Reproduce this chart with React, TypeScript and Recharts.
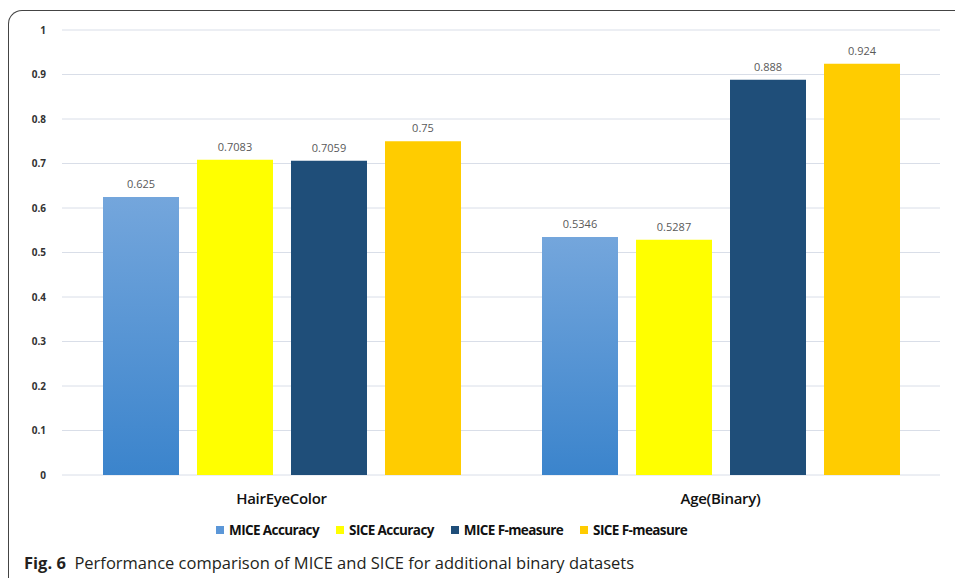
import React from "react";
import { BarChart, Bar, XAxis, YAxis, CartesianGrid, LabelList } from "recharts";

const datasets = ["HairEyeColor", "Age(Binary)"];
const miceAccuracy = [0.625, 0.5346];
const siceAccuracy = [0.7083, 0.5287];
const miceFMeasure = [0.7059, 0.888];
const siceFMeasure = [0.75, 0.924];
const yTicks = [0, 0.1, 0.2, 0.3, 0.4, 0.5, 0.6, 0.7, 0.8, 0.9, 1];

const seriesNames = ["MICE Accuracy", "SICE Accuracy", "MICE F-measure", "SICE F-measure"];
const seriesKeys = ["miceAcc", "siceAcc", "miceF", "siceF"];
const seriesColors = ["#5b97d8", "#ffff00", "#1f4e79", "#ffcc00"];
const seriesFills = ["url(#miceAccGrad)", "#ffff00", "#1f4e79", "#ffcc00"];

const data = datasets.map((name, i) => ({
  name,
  miceAcc: miceAccuracy[i],
  siceAcc: siceAccuracy[i],
  miceF: miceFMeasure[i],
  siceF: siceFMeasure[i],
}));

const font = "'Open Sans', 'DejaVu Sans', sans-serif";

const fmtTick = (v: number) => (v === 0 || v === 1 ? String(v) : v.toFixed(1));

export default function App() {
  return (
    <div style={{ position: "absolute", left: 0, top: 0, width: 955, height: 578, background: "#fff", overflow: "hidden" }}>
      {/* frame: top + left edge with rounded corner */}
      <div
        style={{
          position: "absolute",
          left: 8,
          top: 10,
          width: 960,
          height: 600,
          borderTop: "1.5px solid #444",
          borderLeft: "1.5px solid #444",
          borderTopLeftRadius: 14,
        }}
      />
      <div style={{ position: "absolute", left: 0, top: 0 }}>
        <BarChart
          width={955}
          height={578}
          data={data}
          margin={{ top: 30, right: 15, left: 0, bottom: 73 }}
          barSize={76}
          barGap={18}
        >
          <defs>
            <linearGradient id="miceAccGrad" x1="0" y1="0" x2="0" y2="1">
              <stop offset="0%" stopColor="#74a6dc" />
              <stop offset="100%" stopColor="#3b84cc" />
            </linearGradient>
          </defs>
          <CartesianGrid vertical={false} stroke="#d9dee8" strokeWidth={1} />
          <XAxis
            dataKey="name"
            axisLine={false}
            tickLine={false}
            tickMargin={12}
            height={30}
            tick={{ fontFamily: font, fontWeight: 600, fontSize: 15, fill: "#111", letterSpacing: -0.3 }}
          />
          <YAxis
            domain={[0, 1]}
            ticks={yTicks}
            tickFormatter={fmtTick}
            width={62}
            axisLine={false}
            tickLine={false}
            tickMargin={10}
            tick={{ fontFamily: font, fontWeight: 700, fontSize: 10, fill: "#333" }}
          />
          {seriesKeys.map((k, i) => (
            <Bar key={k} dataKey={k} name={seriesNames[i]} fill={seriesFills[i]} isAnimationActive={false}>
              <LabelList
                dataKey={k}
                position="top"
                offset={9}
                style={{ fontFamily: font, fontSize: 11, fill: "#595959" }}
              />
            </Bar>
          ))}
        </BarChart>
      </div>
      {/* legend */}
      <div
        style={{
          position: "absolute",
          left: 216,
          top: 521,
          display: "flex",
          fontFamily: font,
          fontWeight: 700,
          fontSize: 13.5,
          color: "#111",
          letterSpacing: -0.6,
        }}
      >
        {seriesNames.map((n, i) => (
          <span key={n} style={{ display: "flex", alignItems: "center", marginRight: 17 }}>
            <span style={{ width: 8, height: 8, background: seriesColors[i], marginRight: 5, display: "inline-block" }} />
            {n}
          </span>
        ))}
      </div>
      <div
        style={{
          position: "absolute",
          left: 24,
          top: 551,
          fontFamily: font,
          fontSize: 16.5,
          color: "#231f20",
          whiteSpace: "nowrap",
        }}
      >
        <b>Fig. 6</b>&nbsp; Performance comparison of MICE and SICE for additional binary datasets
      </div>
    </div>
  );
}
